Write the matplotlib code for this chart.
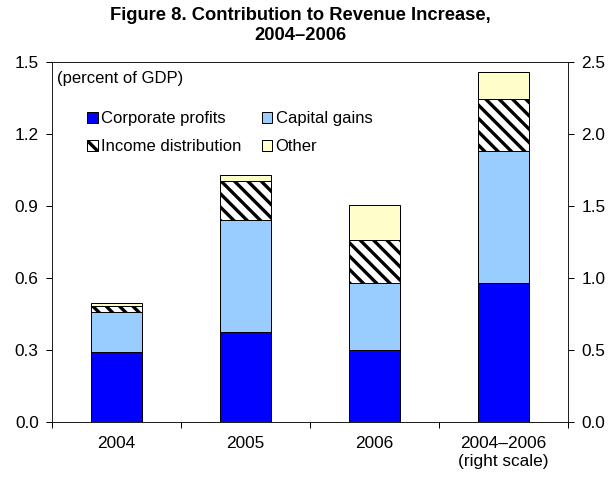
import matplotlib
matplotlib.use("Agg")
import matplotlib.pyplot as plt
from matplotlib.ticker import FormatStrFormatter
import numpy as np

plt.rcParams['font.family'] = ['Liberation Sans', 'DejaVu Sans']
plt.rcParams['hatch.linewidth'] = 3.0

categories = ['2004', '2005', '2006', '2004\u20132006\n(right scale)']
corporate = [0.29, 0.374, 0.299, 0.965]
capital = [0.167, 0.468, 0.28, 0.917]
income = [0.025, 0.162, 0.178, 0.361]
other = [0.013, 0.025, 0.148, 0.187]
series_names = ['Corporate profits', 'Capital gains', 'Income distribution', 'Other']
left_ticks = [0.0, 0.3, 0.6, 0.9, 1.2, 1.5]
right_ticks = [0.0, 0.5, 1.0, 1.5, 2.0, 2.5]

colors = ['#0000FF', '#99CCFF', 'white', '#FFFFCC']
hatches = [None, None, '\\\\', None]

FS = 15.0
TFS = 15.5
DPI = 80
fig = plt.figure(figsize=(616 / DPI, 484 / DPI), dpi=DPI)
W, H = 616, 484
L, R, T, B = 52, 568, 62, 422
ax = fig.add_axes([L / W, 1 - B / H, (R - L) / W, (B - T) / H])
ax2 = ax.twinx()

series = [corporate, capital, income, other]
x = np.arange(len(categories))
width = 0.40
handles = []
for axis, idx in ((ax, [0, 1, 2]), (ax2, [3])):
    bottom = np.zeros(len(idx))
    for s, vals in enumerate(series):
        v = np.array([vals[i] for i in idx])
        bars = axis.bar(x[idx], v, width, bottom=bottom, color=colors[s],
                        edgecolor='black', linewidth=0.9, hatch=hatches[s],
                        label=series_names[s], zorder=3)
        if axis is ax:
            handles.append(bars)
        bottom = bottom + v

ax.set_xlim(-0.5, 3.5)
ax.set_ylim(0, 1.5)
ax2.set_ylim(0, 2.5)
ax.set_yticks(left_ticks)
ax2.set_yticks(right_ticks)
ax.yaxis.set_major_formatter(FormatStrFormatter('%.1f'))
ax2.yaxis.set_major_formatter(FormatStrFormatter('%.1f'))

ax.set_xticks(np.arange(-0.5, 4.0, 1.0))
ax.set_xticklabels([])
ax.set_xticks(x, minor=True)
ax.set_xticklabels(categories, minor=True)
ax.tick_params(axis='x', which='minor', length=0, pad=13, labelsize=TFS)
ax.tick_params(axis='x', which='major', length=5, direction='out', width=0.9)
ax.tick_params(axis='y', length=5, direction='out', width=0.9, labelsize=TFS, pad=7)
ax2.tick_params(axis='y', length=5, direction='out', width=0.9, labelsize=TFS, pad=7)
for a in (ax, ax2):
    for sp in a.spines.values():
        sp.set_linewidth(0.9)
        sp.set_color('#222222')

fig.text(57 / W, 1 - 78 / H, '(percent of GDP)', fontsize=FS, va='center', ha='left')

order = [0, 2, 1, 3]
leg = fig.legend([handles[i] for i in order], [series_names[i] for i in order],
                 ncol=2, loc='upper left',
                 bbox_to_anchor=(87 / W, 1 - 111 / H), frameon=False,
                 fontsize=FS, handlelength=0.65, handleheight=0.65,
                 handletextpad=0.2, columnspacing=1.2, labelspacing=0.8,
                 borderpad=0, borderaxespad=0)

fig.text(0.487, 1 - 7 / H, 'Figure 8. Contribution to Revenue Increase,\n2004\u20132006',
         fontsize=16.5, fontweight='bold', ha='center', va='top', linespacing=1.2)

fig.savefig('out.png', dpi=DPI)
